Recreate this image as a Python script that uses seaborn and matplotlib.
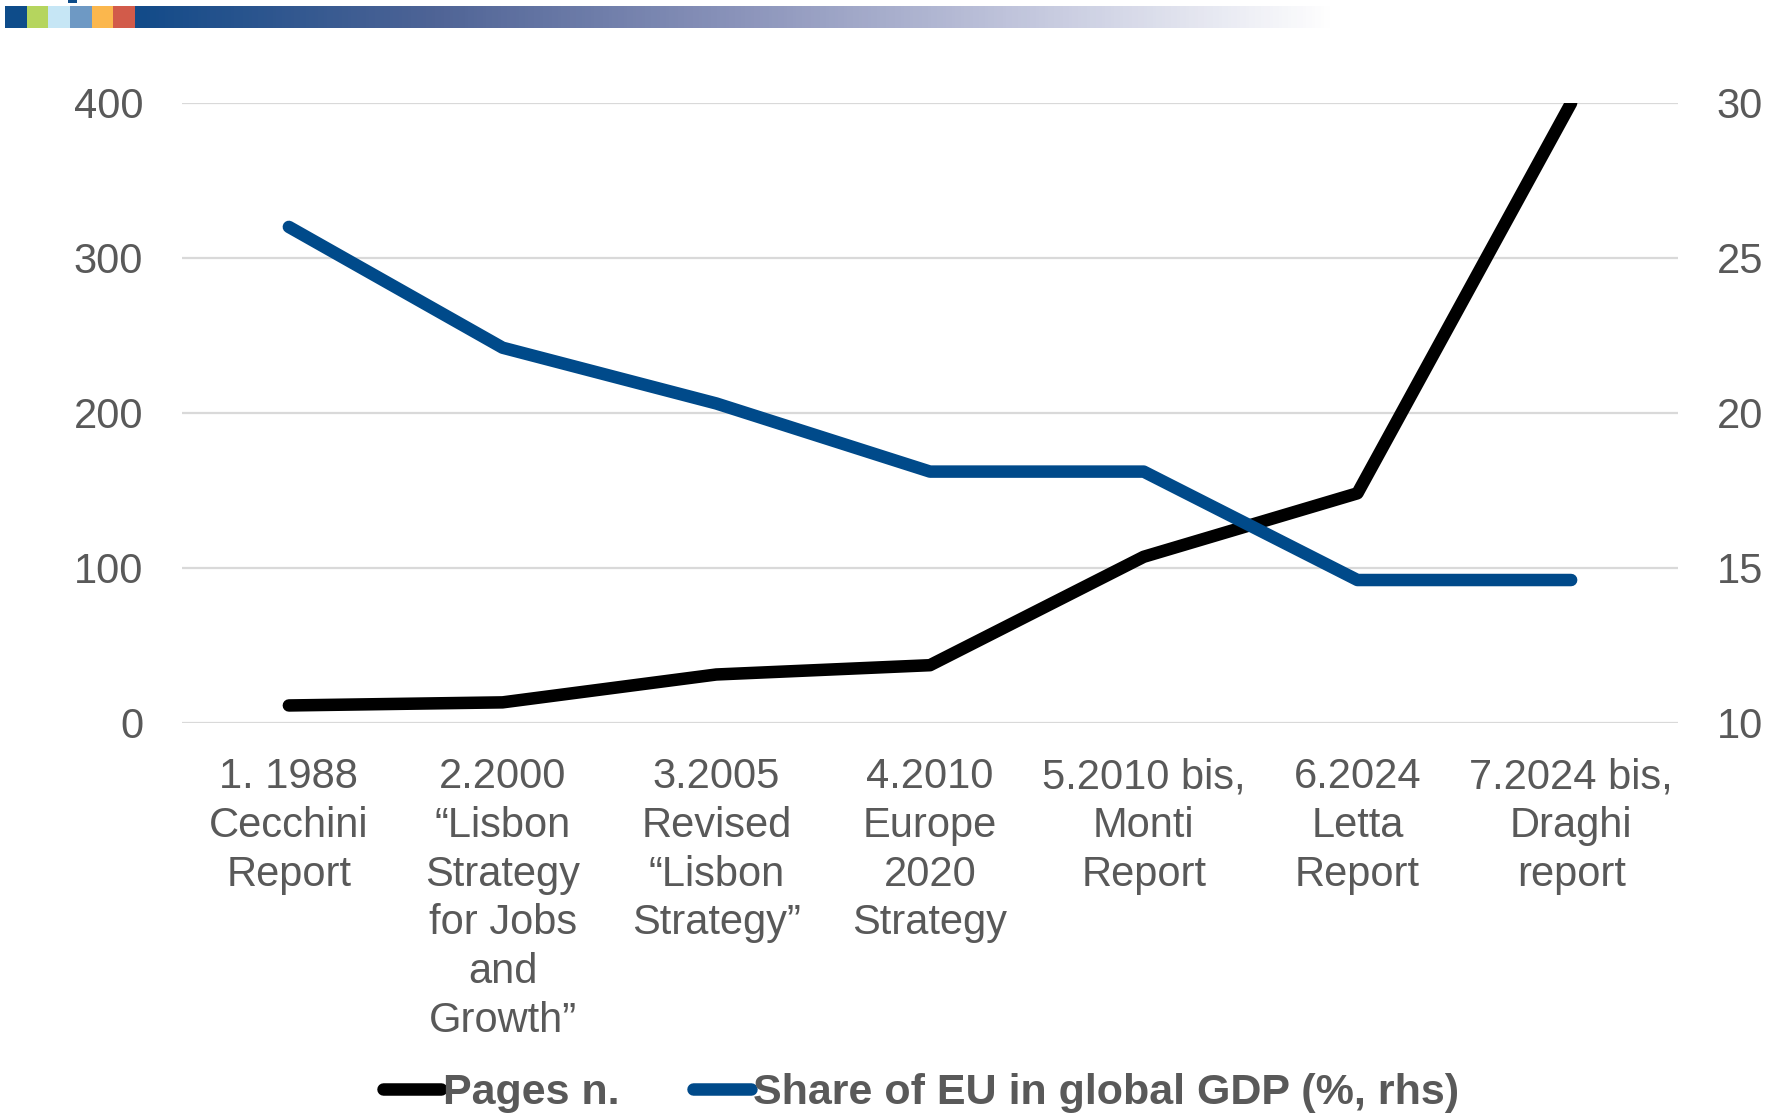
import numpy as np
import pandas as pd
import matplotlib
matplotlib.use('Agg')
import matplotlib.pyplot as plt
import seaborn as sns
from matplotlib.patches import Rectangle

# Data
categories = [
    "1. 1988\nCecchini\nReport",
    "2.2000\n\u201cLisbon\nStrategy\nfor Jobs\nand\nGrowth\u201d",
    "3.2005\nRevised\n\u201cLisbon\nStrategy\u201d",
    "4.2010\nEurope\n2020\nStrategy",
    "5.2010 bis,\nMonti\nReport",
    "6.2024\nLetta\nReport",
    "7.2024 bis,\nDraghi\nreport",
]
pages = [11, 13, 31, 37, 107, 148, 400]
eu_share = [26.0, 22.1, 20.3, 18.1, 18.1, 14.6, 14.6]

PAGES_LABEL = "Pages n."
SHARE_LABEL = "Share of EU in global GDP (%, rhs)"

BLACK = "#000000"
BLUE = "#004A8A"
GREY_TEXT = "#595959"
GRID = "#D9D9D9"

sns.set_theme(style="white")
plt.rcParams['font.family'] = ['Liberation Sans', 'DejaVu Sans']

df = pd.DataFrame({"pos": np.arange(len(categories)), "pages": pages, "share": eu_share})

fig = plt.figure(figsize=(17.68, 11.17), dpi=100)
ax = fig.add_axes([182 / 1768, 1 - 722.5 / 1117, 1496 / 1768, 619.5 / 1117])
ax2 = ax.twinx()

line_kw = dict(linewidth=9, solid_capstyle='round', solid_joinstyle='round')
sns.lineplot(data=df, x="pos", y="pages", ax=ax, color=BLACK, label=PAGES_LABEL, legend=False, **line_kw)
sns.lineplot(data=df, x="pos", y="share", ax=ax2, color=BLUE, label=SHARE_LABEL, legend=False, **line_kw)

ax.set_xlim(-0.5, len(categories) - 0.5)
ax.set_ylim(0, 400)
ax2.set_ylim(10, 30)
ax.set_yticks([0, 100, 200, 300, 400])
ax2.set_yticks([10, 15, 20, 25, 30])
ax.set_xticks(range(len(categories)))
ax.set_xticklabels(categories, fontsize=30, color=GREY_TEXT, linespacing=1.28)

ax.yaxis.grid(True, color=GRID, linewidth=1.6)
ax.set_axisbelow(True)
ax.set_xlabel("")
ax.set_ylabel("")
ax2.set_ylabel("")
for a in (ax, ax2):
    for s in a.spines.values():
        s.set_visible(False)
ax.tick_params(axis='y', length=0, pad=28, labelsize=30, labelcolor=GREY_TEXT)
ax2.tick_params(axis='y', length=0, pad=28, labelsize=30, labelcolor=GREY_TEXT)
ax.tick_params(axis='x', length=0, pad=25)
ax2.set_zorder(ax.get_zorder() + 1)
ax2.patch.set_visible(False)

# Legend at the bottom
h1, l1 = ax.get_legend_handles_labels()
h2, l2 = ax2.get_legend_handles_labels()
leg = fig.legend(h1 + h2, l1 + l2, loc='center', bbox_to_anchor=(921 / 1768, 1 - 1093 / 1117),
                 ncol=2, frameon=False, handlelength=1.35, handletextpad=0.05, columnspacing=1.7,
                 prop={'weight': 'bold', 'size': 31})
for t in leg.get_texts():
    t.set_color(GREY_TEXT)

# Decorative header strip
W, H = 1768, 1117
squares = ["#0E4C8A", "#B5D55E", "#C6E6F5", "#6E99C4", "#FBB74D", "#D25B4A"]
for i, c in enumerate(squares):
    fig.patches.append(Rectangle(((5 + i * 21.7) / W, 1 - 28 / H), 21.7 / W, 22 / H,
                                 transform=fig.transFigure, facecolor=c, edgecolor='none'))
fig.patches.append(Rectangle((68 / W, 1 - 3 / H), 9 / W, 3 / H, transform=fig.transFigure,
                             facecolor="#0E4C8A", edgecolor='none'))
gax = fig.add_axes([135 / W, 1 - 28 / H, (1336 - 135) / W, 22 / H])
grad_cmap = matplotlib.colors.LinearSegmentedColormap.from_list(
    "strip", ["#134B89", "#4F6496", "#8A93BA", "#C4C8DE", "#FFFFFF"])
gax.imshow(np.linspace(0, 1, 400)[None, :], aspect='auto', cmap=grad_cmap)
gax.axis('off')

fig.savefig("out.png", dpi=100)
